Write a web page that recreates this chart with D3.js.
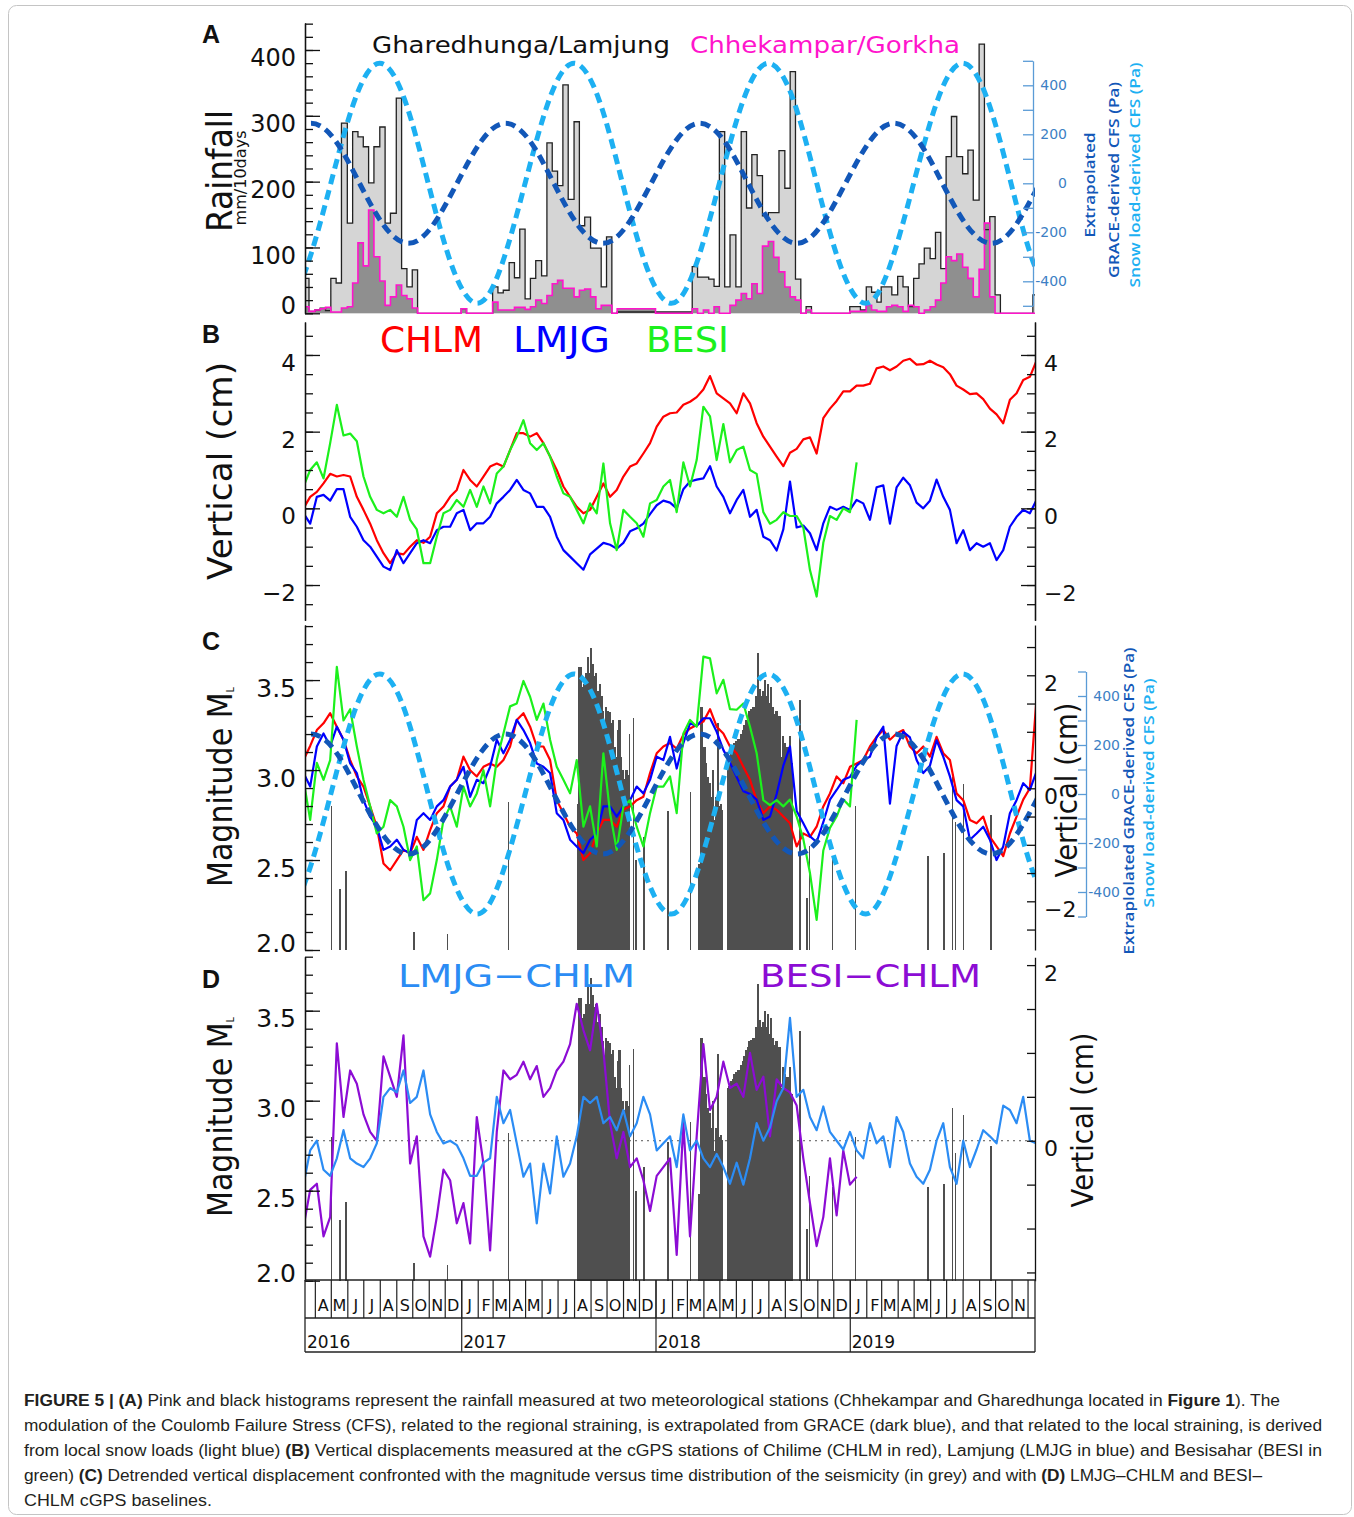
<!DOCTYPE html>
<html>
<head>
<meta charset="utf-8">
<title>Figure 5</title>
<script src="https://cdn.jsdelivr.net/npm/d3@7"></script>
<style>
  body { margin: 0; background: #ffffff; }
  text { font-family: "DejaVu Sans", sans-serif; }
</style>
</head>
<body>
<svg id="fig" width="1354" height="1517"></svg>
<script>
// ---------- data ----------

// 10-day rainfall (mm), one value per dekad (1st, 11th, 21st of the month); first bin 11 Mar 2016
var ghare2016 = [53,3, 5,8,4, 53,46,289, 137,276,268, 253,198,253, 283,137,152, 327,68,40, 66,0,0, 0,0,0, 0,0,0];
var ghare2017 = [7,0,0, 0,0,0, 40,31,35, 77,54,128, 22,53,80, 57,259,216, 194,347,173, 291,133,146, 99,99,40, 116,0,2, 2,2,2, 2,2,2];
var ghare2018 = [2,2,2, 2,2,2, 2,71,55, 55,52,41, 276,40,119, 40,276,160, 241,209,148, 153,153,247, 190,367,52, 0,10,0, 0,0,0, 0,0,0];
var ghare2019 = [10,10,5, 40,32,17, 40,40,28, 56,40,10, 53,75,99, 83,123,68, 238,299,238, 212,248,172, 409,127,147, 28,0,0, 0,0,0, 0,28,0];

var gorkha2016 = [10,3, 5,7,9, 2,2,8, 10,46,107, 72,157,86, 49,12,25, 43,27,22, 8,0,0, 0,0,0, 0,0,0];
var gorkha2017 = [7,0,0, 0,0,0, 17,5,5, 5,9,9, 6,10,20, 15,27,45, 50,38,38, 25,35,37, 25,7,12, 12,0,7, 7,7,7, 7,7,7];
var gorkha2018 = [0,0,0, 0,0,0, 0,7,0, 5,0,10, 0,0,12, 20,30,22, 45,30,102, 109,85,63, 40,25,20, 0,5,0, 0,0,0, 0,0,0];
var gorkha2019 = [3,3,3, 12,5,3, 3,10,12, 10,3,12, 10,0,5, 10,20,46, 86,80,90, 70,53,25, 67,137,25, 0,0,0, 0,0,0, 0,0,0];

// Coulomb failure stress modulation (Pa)
var graceDates = ["2015-12-24","2016-02-08","2016-03-25","2016-05-10","2016-06-24","2016-08-09","2016-09-24","2016-11-08",
  "2016-12-24","2017-02-08","2017-03-25","2017-05-10","2017-06-24","2017-08-09","2017-09-24","2017-11-08",
  "2017-12-24","2018-02-08","2018-03-25","2018-05-10","2018-06-24","2018-08-09","2018-09-24","2018-11-08",
  "2018-12-24","2019-02-08","2019-03-25","2019-05-10","2019-06-24","2019-08-09","2019-09-24","2019-11-08",
  "2019-12-24","2020-02-08"];
var graceCfs = [0,173,245,173,0,-173,-245,-173, 0,173,245,173,0,-173,-245,-173,
  0,173,245,173,0,-173,-245,-173, 0,173,245,173,0,-173,-245,-173, 0,173];
var snowDates = ["2015-12-16","2016-01-31","2016-03-16","2016-05-01","2016-06-16","2016-08-01","2016-09-16","2016-10-31",
  "2016-12-16","2017-01-31","2017-03-16","2017-05-01","2017-06-16","2017-08-01","2017-09-16","2017-10-31",
  "2017-12-16","2018-01-31","2018-03-16","2018-05-01","2018-06-16","2018-08-01","2018-09-16","2018-10-31",
  "2018-12-16","2019-01-31","2019-03-16","2019-05-01","2019-06-16","2019-08-01","2019-09-16","2019-10-31",
  "2019-12-16","2020-01-31"];
var snowCfs = [-346,-490,-346,0,346,490,346,0, -346,-490,-346,0,346,490,346,0,
  -346,-490,-346,0,346,490,346,0, -346,-490,-346,0,346,490,346,0, -346,-490];

// cGPS vertical (cm), sampled every gpsStepDays from gpsStart
var gpsStart = Date.UTC(2016, 2, 10, 17);
var gpsStepDays = 12.52;

var chlm = [0.0,0.3,0.43,0.65,0.9,0.83,0.87,0.83,0.3,-0.04,
  -0.4,-0.83,-1.17,-1.43,-1.17,-1.2,-1.0,-0.83,-0.9,-0.74,
  -0.13,0.04,0.3,0.48,1.0,0.74,0.57,0.83,1.09,1.17,
  1.09,1.52,1.96,1.96,1.87,1.96,1.7,1.35,1.0,0.57,
  0.3,0.04,-0.13,-0.04,0.3,0.65,0.3,0.48,0.83,1.09,
  1.17,1.43,1.7,2.13,2.39,2.48,
  2.5,2.7,2.78,2.9,3.1,3.45,3.0,2.87,2.74,2.48,
  3.0,2.74,2.22,1.87,1.61,1.35,1.1,1.45,1.55,1.8,
  1.85,1.43,2.35,2.6,2.8,3.05,3.05,3.2,3.2,3.25,
  3.65,3.7,3.6,3.7,3.85,3.9,3.75,3.76,3.85,3.75,
  3.68,3.5,3.2,3.1,2.98,3.0,2.85,2.6,2.45,2.22,
  2.83,3.0,3.35,3.43,3.85];
var lmjg = [-0.13,-0.4,0.3,0.35,0.2,0.5,0.5,-0.22,-0.48,-0.83,
  -1.0,-1.26,-1.52,-1.61,-1.09,-1.43,-1.17,-0.91,-0.83,-0.91,
  -0.57,-0.48,-0.48,-0.13,-0.04,-0.57,-0.39,-0.39,-0.22,0.13,
  0.3,0.48,0.74,0.48,0.39,0.04,0.04,-0.22,-0.74,-1.09,
  -1.26,-1.43,-1.6,-1.2,-1.05,-0.9,-0.95,-1.05,-0.9,-0.6,
  -0.52,-0.4,-0.15,0.08,0.2,0.15,
  0.0,0.5,0.7,0.75,0.78,1.1,0.57,0.3,-0.13,0.22,
  0.48,-0.22,-0.04,-0.74,-0.83,-1.1,-0.55,0.7,-0.5,-0.45,
  -0.65,-1.09,-0.39,0.04,-0.04,0.04,-0.04,0.22,0.13,-0.3,
  0.55,0.6,-0.4,0.55,0.8,0.6,0.15,0.0,0.2,0.75,
  0.3,-0.04,-0.91,-0.57,-1.09,-0.91,-1.0,-0.91,-1.35,-1.09,
  -0.48,-0.22,-0.04,-0.13,0.22];
var besi = [0.57,1.0,1.2,0.78,1.7,2.7,1.9,1.95,1.75,0.83,
  0.3,-0.04,-0.13,-0.04,-0.22,0.3,-0.3,-0.55,-1.43,-1.43,
  -0.74,-0.13,-0.04,0.22,0.04,0.48,0.04,0.57,0.13,0.91,
  1.09,1.52,1.87,2.3,1.7,1.52,1.7,1.35,0.83,0.39,
  0.3,-0.04,-0.39,0.13,-0.13,1.17,-0.39,-1.09,-0.04,-0.22,
  -0.39,-0.74,0.13,0.22,0.57,0.74,
  -0.1,1.2,0.57,1.26,2.65,2.4,1.26,2.2,1.2,1.52,
  1.61,1.0,0.9,-0.1,-0.4,-0.3,-0.1,-0.2,-0.2,-0.5,
  -1.61,-2.3,-0.9,-0.2,-0.3,0.0,-0.1,1.2];

// detrended vertical (cm)
var chlmDetr = [0.5,0.75,1.03,1.15,1.33,1.09,0.86,0.5,0.21,0.03,
  -0.32,-0.68,-1.33,-1.45,-1.27,-1.09,-1.15,-0.86,-1.09,-0.74,
  -0.44,-0.32,0.03,0.15,0.56,0.32,0.21,0.38,0.44,0.38,
  0.5,0.74,1.21,1.33,1.09,0.74,0.74,0.5,-0.21,-0.44,
  -0.68,-0.8,-1.27,-1.15,-0.8,-0.56,-0.56,-0.68,-0.38,-0.32,
  -0.21,-0.15,0.27,0.62,0.74,0.8,
  0.7,0.95,1.06,1.12,1.18,1.4,1.09,0.97,0.74,0.62,
  0.38,0.15,-0.21,-0.44,-0.32,-0.38,-0.5,-0.62,-1.03,-0.8,
  -0.86,-0.68,-0.32,-0.09,0.21,0.09,0.38,0.44,0.5,0.74,
  0.91,1.03,0.86,0.97,1.03,0.74,0.62,0.74,0.56,0.91,
  0.62,0.5,-0.09,-0.21,-0.56,-0.62,-0.5,-0.86,-1.03,-1.2,
  -0.8,-0.5,-0.2,0.0,1.6];
var lmjgDetr = [0.27,0.03,0.74,0.97,0.74,1.09,0.86,0.44,0.27,-0.21,
  -0.5,-0.68,-1.09,-1.03,-0.91,-1.09,-1.15,-0.56,-0.44,-0.56,
  -0.32,-0.21,0.03,0.15,0.38,-0.15,0.15,0.09,0.38,0.86,
  0.62,0.86,1.21,1.03,0.8,0.44,0.38,0.27,-0.44,-0.56,
  -0.91,-1.03,-1.15,-0.91,-0.8,-0.32,-0.32,-0.5,-0.32,-0.21,
  0.03,-0.09,0.15,0.56,0.5,0.91,
  0.35,0.8,1.15,1.1,1.24,1.24,1.0,0.68,0.45,0.2,
  -0.05,-0.1,-0.2,-0.56,-0.5,-0.1,0.4,0.74,-0.4,-0.62,
  -0.85,-0.95,-0.6,-0.2,-0.03,0.15,0.2,0.4,0.5,0.56,
  0.9,1.09,-0.27,0.75,1.0,0.9,0.5,0.27,0.4,0.85,
  0.56,0.21,-0.21,-0.32,-0.91,-0.8,-0.68,-0.91,-1.27,-1.03,
  -0.44,-0.21,0.09,-0.03,0.3];
var besiDetr = [0.15,-0.56,0.45,0.15,0.5,2.15,1.2,1.4,0.74,0.15,
  -0.32,-0.8,-0.68,-0.21,-0.32,-0.68,-1.27,-1.03,-1.98,-1.86,
  -1.27,-0.56,-0.32,-0.68,0.03,-0.32,-0.09,0.32,-0.32,0.5,
  0.97,1.45,1.5,1.9,1.62,1.21,1.5,0.86,0.38,0.15,
  -0.09,0.5,-0.68,-0.32,-1.03,0.62,-0.44,-1.09,-0.32,-0.21,
  -0.68,-1.03,-0.44,0.03,0.03,0.21,
  -0.44,0.97,1.21,1.09,2.33,2.3,1.68,1.92,1.4,1.39,
  1.5,1.09,0.62,-0.21,-0.3,-0.21,-0.32,-0.2,-0.5,-0.9,
  -1.5,-2.33,-1.1,-0.7,-0.5,-0.2,-0.32,1.21];

// baselines (cm)
var lmjgChlm = [-0.5,-0.11,0.0,-0.33,-0.4,-0.2,0.12,-0.2,-0.26,-0.3,
  -0.2,-0.03,0.5,0.6,0.55,0.8,0.43,0.5,0.8,0.3,
  0.1,-0.03,0.0,-0.05,-0.2,-0.4,-0.4,-0.25,-0.2,0.5,
  0.2,0.35,-0.03,-0.41,-0.26,-0.94,-0.26,-0.6,0.05,-0.41,
  -0.26,0.05,0.5,0.43,0.5,0.2,0.27,0.12,0.35,0.05,
  0.2,0.5,0.3,-0.11,-0.03,0.05,
  -0.3,0.3,-0.11,0.0,-0.2,-0.3,-0.15,-0.3,-0.49,-0.25,
  -0.5,-0.2,0.2,0.0,0.15,0.45,0.6,1.4,0.5,0.58,
  0.27,0.12,0.39,0.1,0.0,-0.1,0.1,-0.11,-0.2,0.2,
  -0.03,0.05,-0.3,0.27,0.1,-0.26,-0.41,-0.49,-0.33,0.0,
  0.2,-0.3,-0.49,0.0,-0.3,-0.1,0.12,0.05,-0.03,0.4,
  0.35,0.2,0.5,0.0,-0.03];
var besiChlm = [-0.98,-0.56,-0.49,-1.09,-0.87,1.11,0.27,0.8,0.65,0.3,
  0.1,0.0,0.96,0.73,0.5,1.2,-0.26,0.05,-1.09,-1.32,
  -0.87,-0.33,-0.45,-0.94,-0.71,-1.17,0.27,-0.26,-1.25,0.1,
  0.8,0.7,0.75,0.9,0.7,0.85,0.5,0.6,0.8,0.9,
  1.1,1.56,1.26,1.03,1.56,1.03,0.2,-0.2,0.1,-0.3,
  -0.2,-0.45,-0.8,-0.4,-0.3,-0.2,
  -1.3,0.2,-1.09,0.05,1.1,0.35,0.5,0.9,0.6,0.65,
  0.5,1.0,0.58,0.73,0.05,0.7,0.6,0.55,0.4,-0.2,
  -0.71,-1.2,-0.87,-0.2,-0.85,-0.11,-0.5,-0.41];

// seismicity: [days since 1 Jan 2016, local magnitude]
var quakes = [[121,2.80],[137,2.34],[148,2.44],[276,2.10],[339,2.09],[453,2.82],
  [583,2.81],[586,3.57],[589,3.57],[592,3.46],[595,3.48],[599,3.54],[602,3.63],[605,3.54],[608,3.68],[611,3.59],
  [614,3.52],[617,3.54],[620,3.44],[624,3.48],[627,3.41],[630,3.33],[633,3.24],[636,3.35],[639,3.33],[642,3.32],
  [646,3.26],[649,3.28],[652,3.13],[655,3.07],[658,3.22],[661,3.28],[664,3.07],[667,3.0],
  [671,2.95],[674,3.0],[678,2.97],[681,3.2],[688,3.29],[693,2.5],[708,2.63],[753,2.77],[796,2.88],
  [811,2.48],[815,3.35],[818,2.96],[821,3.13],[824,3.04],[827,2.96],[830,2.93],[833,2.85],[837,3.0],[840,2.72],
  [843,2.85],[846,3.26],[849,2.8],[852,2.81],[855,2.78],
  [865,3.07],[868,3.08],[871,3.11],[874,3.12],[877,3.15],[880,3.16],[884,3.17],[887,3.17],[890,3.2],[893,3.22],
  [896,3.25],[899,3.28],[902,3.3],[905,3.33],[909,3.34],[912,3.35],[915,3.35],[918,3.41],[922,3.65],[924,3.45],
  [927,3.41],[931,3.44],[934,3.5],[937,3.41],[940,3.48],[943,3.37],[946,3.46],[949,3.35],[952,3.31],[955,3.33],
  [959,3.28],[962,3.3],[965,3.07],[968,3.19],[971,3.15],[974,3.09],[977,3.13],[981,3.19],[984,3.04],[987,2.98],
  [1001,3.39],[1014,2.29],[1019,2.58],[1062,2.52],[1106,2.8],[1242,2.52],[1272,2.54],[1288,2.96],[1293,2.71],
  [1308,2.92],[1360,2.75]];

var monthLetters = ["J","F","M","A","M","J","J","A","S","O","N","D"];
var yearLabels = [2016, 2017, 2018, 2019];

// ---------- drawing ----------
var DAY = 864e5;
var RED = "#ff0000", BLUE = "#0000ff", GREEN = "#1cf01c", GRACE = "#1257b8", SNOW = "#1db0f2",
    PINK = "#ff14cc", LBLUE = "#2b8cf4", PURPLE = "#8c0cd4";

var svg = d3.select("#fig");
var defs = svg.append("defs");

svg.append("rect").attr("x", 8.5).attr("y", 5.5).attr("width", 1343).attr("height", 1509)
    .attr("rx", 8).attr("fill", "none").attr("stroke", "#c4c4c4");

var x = d3.scaleUtc()
    .domain([new Date(Date.UTC(2016, 2, 13, 12)), new Date(Date.UTC(2019, 11, 15))])
    .range([305, 1035]);

var yRain = d3.scaleLinear().domain([0, 441]).range([313.3, 23]);
var yCfsA = d3.scaleLinear().domain([-500, 500]).range([305.8, 60.8]);
var yB = d3.scaleLinear().domain([-2.92, 4.86]).range([620.3, 322]);
var yMagC = d3.scaleLinear().domain([2, 3.806]).range([950, 625]);
var yVertC = d3.scaleLinear().domain([-2.86, 2.89]).range([949.9, 625]);
var yCfsC = d3.scaleLinear().domain([-500, 500]).range([916.5, 671.5]);
var yMagD = d3.scaleLinear().domain([2, 3.8]).range([1280.7, 956.7]);
var yVertD = d3.scaleLinear().domain([-1.594, 2.09]).range([1280.7, 957.2]);

function clip(id, y0, y1) {
  defs.append("clipPath").attr("id", id).append("rect")
      .attr("x", 305).attr("y", y0).attr("width", 730).attr("height", y1 - y0);
  return "url(#" + id + ")";
}

// dekad bins
var dekads = [];
d3.utcMonths(new Date(Date.UTC(2016, 2, 1)), new Date(Date.UTC(2020, 0, 1))).forEach(function(m) {
  [1, 11, 21].forEach(function(day) {
    dekads.push(new Date(Date.UTC(m.getUTCFullYear(), m.getUTCMonth(), day)));
  });
});
dekads = dekads.slice(1);
var dekadEnd = new Date(Date.UTC(2020, 0, 1));

var gharedhunga = [].concat(ghare2016, ghare2017, ghare2018, ghare2019);
var chhekampar = [].concat(gorkha2016, gorkha2017, gorkha2018, gorkha2019);

function stepPoints(vals) {
  var pts = vals.map(function(v, i) { return [dekads[i], v]; });
  pts.push([dekadEnd, vals[vals.length - 1]]);
  return pts;
}

var parseDay = d3.utcParse("%Y-%m-%d");
var grace = graceDates.map(function(d, i) { return [parseDay(d), graceCfs[i]]; });
var snow = snowDates.map(function(d, i) { return [parseDay(d), snowCfs[i]]; });

function gpsDate(i) { return new Date(gpsStart + i * gpsStepDays * DAY); }
function qDate(d) { return new Date(Date.UTC(2016, 0, 1) + d * DAY); }

function drawCfs(g, yScale) {
  var line = d3.line().curve(d3.curveNatural)
      .x(function(d) { return x(d[0]); })
      .y(function(d) { return yScale(d[1]); });
  g.append("path").datum(snow).attr("d", line).attr("fill", "none")
      .attr("stroke", SNOW).attr("stroke-width", 5).attr("stroke-dasharray", "10,6");
  g.append("path").datum(grace).attr("d", line).attr("fill", "none")
      .attr("stroke", GRACE).attr("stroke-width", 5).attr("stroke-dasharray", "10,6");
}

function drawGps(g, series, yScale, color) {
  var line = d3.line()
      .x(function(d, i) { return x(gpsDate(i)); })
      .y(function(d) { return yScale(d); });
  g.append("path").datum(series).attr("d", line).attr("fill", "none")
      .attr("stroke", color).attr("stroke-width", 2.2).attr("stroke-linejoin", "round");
}

// bars touching inside a swarm, thin for isolated events
function quakeWidth(d, i) {
  var next = quakes[i + 1];
  var gap = next ? next[0] - d[0] : 99;
  return gap <= 4.5 ? gap + 1.5 : 2.6;
}

function drawQuakes(g, yScale) {
  g.append("g").attr("shape-rendering", "crispEdges")
    .selectAll("rect").data(quakes).enter().append("rect")
      .attr("x", function(d) { return x(qDate(d[0])); })
      .attr("width", function(d, i) { return x(qDate(d[0] + quakeWidth(d, i))) - x(qDate(d[0])); })
      .attr("y", function(d) { return yScale(d[1]); })
      .attr("height", function(d) { return yScale(2) - yScale(d[1]); })
      .attr("fill", "#4f4f4f");
}

function axis(fn, xPos, scale, values, size, fmt, fontSize, color) {
  var g = svg.append("g").attr("transform", "translate(" + xPos + ",0)")
      .call(fn(scale).tickValues(values).tickSizeInner(size).tickSizeOuter(0)
            .tickPadding(9).tickFormat(fmt || function() { return ""; }));
  g.attr("font-size", fontSize || 10).attr("color", color || "#111");
  g.selectAll(".tick line").attr("stroke-width", 1.3);
  g.select(".domain").attr("stroke-width", 1.3);
  return g;
}

// labels sit a little below their ticks, the bottom one a little above
function shiftLabels(g, bottom) {
  g.selectAll(".tick text").attr("y", function(d) { return d === bottom ? -7 : 8; });
}

function minus(d) { return d < 0 ? "\u2212" + Math.abs(d) : String(d); }

function vtitle(xb, yc, txt, size, len, fill, weight, family) {
  return svg.append("text")
      .attr("transform", "translate(" + xb + "," + yc + ") rotate(-90)")
      .attr("text-anchor", "middle")
      .attr("font-size", size)
      .attr("font-weight", weight || null)
      .style("font-family", family || null)
      .attr("fill", fill || "#111")
      .attr("textLength", len)
      .attr("lengthAdjust", "spacingAndGlyphs")
      .text(txt);
}

function htext(x0, yb, txt, size, len, fill) {
  return svg.append("text")
      .attr("x", x0).attr("y", yb)
      .attr("font-size", size)
      .attr("fill", fill)
      .attr("textLength", len)
      .attr("lengthAdjust", "spacingAndGlyphs")
      .text(txt);
}

function panelLetter(txt, yb) {
  svg.append("text").attr("x", 202).attr("y", yb)
      .style("font-family", "'Liberation Sans', Arial, sans-serif")
      .attr("font-weight", "bold").attr("font-size", 25).attr("fill", "#111").text(txt);
}

// ---- panel A ----
var gA = svg.append("g").attr("clip-path", clip("clipA", 20, 316));
var histArea = d3.area().curve(d3.curveStepAfter)
    .x(function(d) { return x(d[0]); })
    .y0(yRain(0))
    .y1(function(d) { return yRain(d[1]); });
var histLine = d3.line().curve(d3.curveStepAfter)
    .x(function(d) { return x(d[0]); })
    .y(function(d) { return yRain(d[1]); });
gA.append("path").datum(stepPoints(gharedhunga)).attr("d", histArea).attr("fill", "#d5d5d5");
gA.append("path").datum(stepPoints(chhekampar)).attr("d", histArea).attr("fill", "#8f8f8f");
gA.append("path").datum(stepPoints(gharedhunga)).attr("d", histLine).attr("fill", "none")
    .attr("stroke", "#222").attr("stroke-width", 1.3);
gA.append("path").datum(stepPoints(chhekampar)).attr("d", histLine).attr("fill", "none")
    .attr("stroke", PINK).attr("stroke-width", 1.6);
drawCfs(gA, yCfsA);

axis(d3.axisLeft, 305, yRain, d3.range(0, 441, 20), -8);
shiftLabels(axis(d3.axisLeft, 305, yRain, [0, 100, 200, 300, 400], -15, d3.format("d"), 24), 0);

var cfsA = axis(d3.axisRight, 1033, yCfsA, d3.range(-500, 501, 100), -10,
    function(d) { return d % 200 === 0 ? String(d) : ""; }, 14, "#5a9bd6");
cfsA.selectAll("text").attr("text-anchor", "end").attr("x", 34).attr("fill", "#3d7fc4");

vtitle(232, 171, "Rainfall", 36, 122);
vtitle(246, 178, "mm/10days", 15, 95);
vtitle(1095, 185, "Extrapolated", 15, 105, GRACE, 600, "'Open Sans', sans-serif");
vtitle(1119, 180, "GRACE-derived CFS (Pa)", 15, 196, GRACE, 600, "'Open Sans', sans-serif");
vtitle(1140, 175, "Snow load-derived CFS (Pa)", 15, 225, SNOW, 600, "'Open Sans', sans-serif");
htext(372, 53, "Gharedhunga/Lamjung", 23, 298, "#111");
htext(690, 53, "Chhekampar/Gorkha", 23, 270, PINK);
panelLetter("A", 43);

// ---- panel B ----
var gB = svg.append("g").attr("clip-path", clip("clipB", 322, 621));
drawGps(gB, chlm, yB, RED);
drawGps(gB, lmjg, yB, BLUE);
drawGps(gB, besi, yB, GREEN);

var bMinor = d3.range(-5, 10).map(function(d) { return d / 2; });
axis(d3.axisLeft, 305, yB, bMinor, -8);
shiftLabels(axis(d3.axisLeft, 305, yB, [-2, 0, 2, 4], -15, minus, 23));
axis(d3.axisRight, 1035, yB, bMinor, -8);
shiftLabels(axis(d3.axisRight, 1035, yB, [-2, 0, 2, 4], -14, minus, 22));

vtitle(232, 471, "Vertical (cm)", 34, 218);
htext(380, 352, "CHLM", 36, 103, RED);
htext(513, 352, "LMJG", 36, 97, BLUE);
htext(646, 352, "BESI", 36, 83, GREEN);
panelLetter("B", 343);

// ---- panel C ----
var gC = svg.append("g").attr("clip-path", clip("clipC", 625, 951));
drawQuakes(gC, yMagC);
drawGps(gC, chlmDetr, yVertC, RED);
drawGps(gC, lmjgDetr, yVertC, BLUE);
drawGps(gC, besiDetr, yVertC, GREEN);
drawCfs(gC, yCfsC);

var magMinor = d3.range(20, 39).map(function(d) { return d / 10; });
axis(d3.axisLeft, 305, yMagC, magMinor, -8);
shiftLabels(axis(d3.axisLeft, 305, yMagC, [2, 2.5, 3, 3.5], -15, d3.format(".1f"), 25), 2);
var cVert = d3.range(-5, 6).map(function(d) { return d / 2; });
shiftLabels(axis(d3.axisRight, 1035, yVertC, cVert, -8,
    function(d) { return d % 2 === 0 ? minus(d) : ""; }, 22));
var cfsC = axis(d3.axisRight, 1086, yCfsC, d3.range(-500, 501, 100), -8,
    function(d) { return d % 200 === 0 ? String(d) : ""; }, 14, "#5a9bd6");
cfsC.selectAll("text").attr("text-anchor", "end").attr("x", 34).attr("fill", "#3d7fc4");

vtitle(232, 787, "Magnitude M", 34, 200).append("tspan")
    .attr("font-size", 11).attr("dy", 2).text("L");
vtitle(1077, 790, "Vertical (cm)", 30, 175);
vtitle(1134, 801, "Extraplolated GRACE-derived CFS (Pa)", 15, 307, GRACE, 600, "'Open Sans', sans-serif");
vtitle(1154, 793, "Snow load-derived CFS (Pa)", 15, 229, SNOW, 600, "'Open Sans', sans-serif");
panelLetter("C", 650);

// ---- panel D ----
var gD = svg.append("g").attr("clip-path", clip("clipD", 957, 1281));
gD.append("line").attr("x1", 305).attr("x2", 1035)
    .attr("y1", yVertD(0)).attr("y2", yVertD(0))
    .attr("stroke", "#555").attr("stroke-dasharray", "2,4");
drawQuakes(gD, yMagD);
drawGps(gD, besiChlm, yVertD, PURPLE);
drawGps(gD, lmjgChlm, yVertD, LBLUE);

axis(d3.axisLeft, 305, yMagD, magMinor, -8);
shiftLabels(axis(d3.axisLeft, 305, yMagD, [2, 2.5, 3, 3.5], -15, d3.format(".1f"), 25), 2);
var dVert = d3.range(-3, 5).map(function(d) { return d / 2; });
shiftLabels(axis(d3.axisRight, 1035, yVertD, dVert, -8,
    function(d) { return d % 2 === 0 ? minus(d) : ""; }, 22));

vtitle(232, 1117, "Magnitude M", 34, 200).append("tspan")
    .attr("font-size", 11).attr("dy", 2).text("L");
vtitle(1093, 1120, "Vertical (cm)", 30, 175);
htext(398, 987, "LMJG\u2212CHLM", 32, 237, LBLUE);
htext(760, 987, "BESI\u2212CHLM", 32, 221, PURPLE);
panelLetter("D", 988);

// ---- time axis ----
var tFrame = svg.append("g").attr("stroke", "#222").attr("stroke-width", 1.3);
[1280, 1318, 1352].forEach(function(yy) {
  tFrame.append("line").attr("x1", 305).attr("x2", 1035).attr("y1", yy).attr("y2", yy);
});
[305, 1035].forEach(function(xx) {
  tFrame.append("line").attr("x1", xx).attr("x2", xx).attr("y1", 1280).attr("y2", 1352);
});

var monthTicks = svg.append("g").attr("transform", "translate(0,1280)")
    .call(d3.axisBottom(x).ticks(d3.utcMonth.every(1)).tickSize(38).tickFormat(""));
monthTicks.select(".domain").remove();
monthTicks.selectAll(".tick line").attr("stroke", "#222").attr("stroke-width", 1.2);

var yearTicks = svg.append("g").attr("transform", "translate(0,1280)")
    .call(d3.axisBottom(x).tickValues(yearLabels.slice(1).map(function(yy) {
      return new Date(Date.UTC(yy, 0, 1)); })).tickSize(72).tickFormat(""));
yearTicks.select(".domain").remove();
yearTicks.selectAll(".tick line").attr("stroke", "#222").attr("stroke-width", 1.2);

var midMonths = d3.utcMonths(new Date(Date.UTC(2016, 3, 1)), new Date(Date.UTC(2019, 11, 1)))
    .map(function(m) { return new Date(Date.UTC(m.getUTCFullYear(), m.getUTCMonth(), 16)); });
var monthLab = svg.append("g").attr("transform", "translate(0,1280)")
    .call(d3.axisBottom(x).tickValues(midMonths).tickSize(0).tickPadding(20)
          .tickFormat(function(d) { return monthLetters[d.getUTCMonth()]; }));
monthLab.select(".domain").remove();
monthLab.attr("font-size", 16).attr("color", "#111");

svg.append("g").selectAll("text").data(yearLabels).enter().append("text")
    .attr("x", function(d) { return Math.max(x(new Date(Date.UTC(d, 0, 1))), 305) + 2; })
    .attr("y", 1348)
    .attr("font-size", 17)
    .attr("fill", "#111")
    .text(function(d) { return d; });

// ---- caption ----
var caption = [
  [["b", "FIGURE 5 | (A)"], ["n", " Pink and black histograms represent the rainfall measured at two meteorological stations (Chhekampar and Gharedhunga located in "], ["b", "Figure 1"], ["n", "). The"]],
  [["n", "modulation of the Coulomb Failure Stress (CFS), related to the regional straining, is extrapolated from GRACE (dark blue), and that related to the local straining, is derived"]],
  [["n", "from local snow loads (light blue) "], ["b", "(B)"], ["n", " Vertical displacements measured at the cGPS stations of Chilime (CHLM in red), Lamjung (LMJG in blue) and Besisahar (BESI in"]],
  [["n", "green) "], ["b", "(C)"], ["n", " Detrended vertical displacement confronted with the magnitude versus time distribution of the seismicity (in grey) and with "], ["b", "(D)"], ["n", " LMJG\u2013CHLM and BESI\u2013"]],
  [["n", "CHLM cGPS baselines."]]
];
var captionWidth = [1256, 1298, 1298, 1238, 188];

caption.forEach(function(segs, i) {
  var t = svg.append("text")
      .attr("x", 24).attr("y", 1406 + i * 25)
      .attr("font-size", 16)
      .attr("fill", "#231f20")
      .style("font-family", "'Liberation Sans', Arial, sans-serif")
      .attr("textLength", captionWidth[i])
      .attr("lengthAdjust", "spacingAndGlyphs");
  segs.forEach(function(s) {
    t.append("tspan").attr("font-weight", s[0] === "b" ? "bold" : null).text(s[1]);
  });
});
</script>
</body>
</html>
